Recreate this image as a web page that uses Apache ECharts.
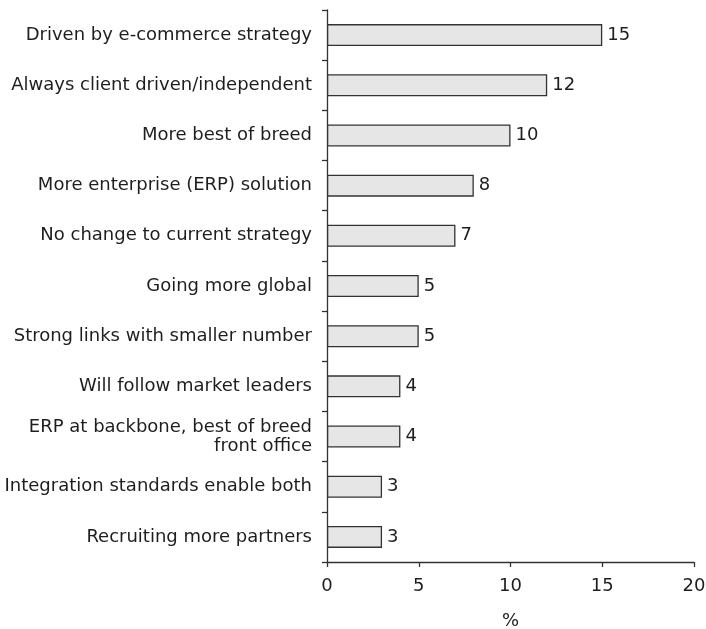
<!DOCTYPE html>
<html>
<head>
<meta charset="utf-8">
<script src="https://cdn.jsdelivr.net/npm/echarts@6/dist/echarts.min.js"></script>
<style>
  html, body { margin: 0; padding: 0; background: #fff; }
  #chart { width: 706px; height: 629px; }
</style>
</head>
<body>
<div id="chart"></div>
<script>
// Survey responses: share of respondents (%) per strategy
const categories = [
  'Driven by e-commerce strategy',
  'Always client driven/independent',
  'More best of breed',
  'More enterprise (ERP) solution',
  'No change to current strategy',
  'Going more global',
  'Strong links with smaller number',
  'Will follow market leaders',
  'ERP at backbone, best of breed\nfront office',
  'Integration standards enable both',
  'Recruiting more partners'
];
const values = [15, 12, 10, 8, 7, 5, 5, 4, 4, 3, 3];
const xTicks = { min: 0, max: 20, interval: 5 };
const axisName = '%';

const FONT = 'DejaVu Sans';
const SIZE = 18;
const INK = '#1e1e1e';
const LINE = '#333333';

const chart = echarts.init(document.getElementById('chart'), null, { renderer: 'canvas' });

chart.setOption({
  animation: false,
  backgroundColor: '#ffffff',
  grid: {
    left: 327, right: 12, top: 10, bottom: 67,
    containLabel: false,
    outerBoundsMode: 'none'
  },
  xAxis: {
    type: 'value',
    min: xTicks.min,
    max: xTicks.max,
    interval: xTicks.interval,
    name: axisName,
    nameLocation: 'middle',
    nameGap: 50,
    nameTextStyle: { fontFamily: FONT, fontSize: SIZE, color: INK },
    axisLine: { show: true, lineStyle: { color: LINE, width: 1.3 } },
    axisTick: { show: true, inside: false, length: 5, lineStyle: { color: LINE, width: 1.3 } },
    axisLabel: { fontFamily: FONT, fontSize: SIZE, color: INK, margin: 15 },
    splitLine: { show: false }
  },
  yAxis: {
    type: 'category',
    data: categories,
    inverse: true,
    axisLine: { show: true, lineStyle: { color: LINE, width: 1.3 } },
    axisTick: { show: true, inside: false, length: 5, alignWithLabel: false, lineStyle: { color: LINE, width: 1.3 } },
    axisLabel: {
      fontFamily: FONT, fontSize: SIZE, color: INK, margin: 15,
      align: 'right', lineHeight: 19
    },
    splitLine: { show: false }
  },
  series: [{
    type: 'bar',
    data: values,
    barWidth: 22,
    itemStyle: { color: '#e6e6e6', borderColor: LINE, borderWidth: 1.3 },
    label: {
      show: true,
      position: 'right',
      distance: 5,
      fontFamily: FONT,
      fontSize: SIZE,
      color: INK
    }
  }]
});
</script>
</body>
</html>
